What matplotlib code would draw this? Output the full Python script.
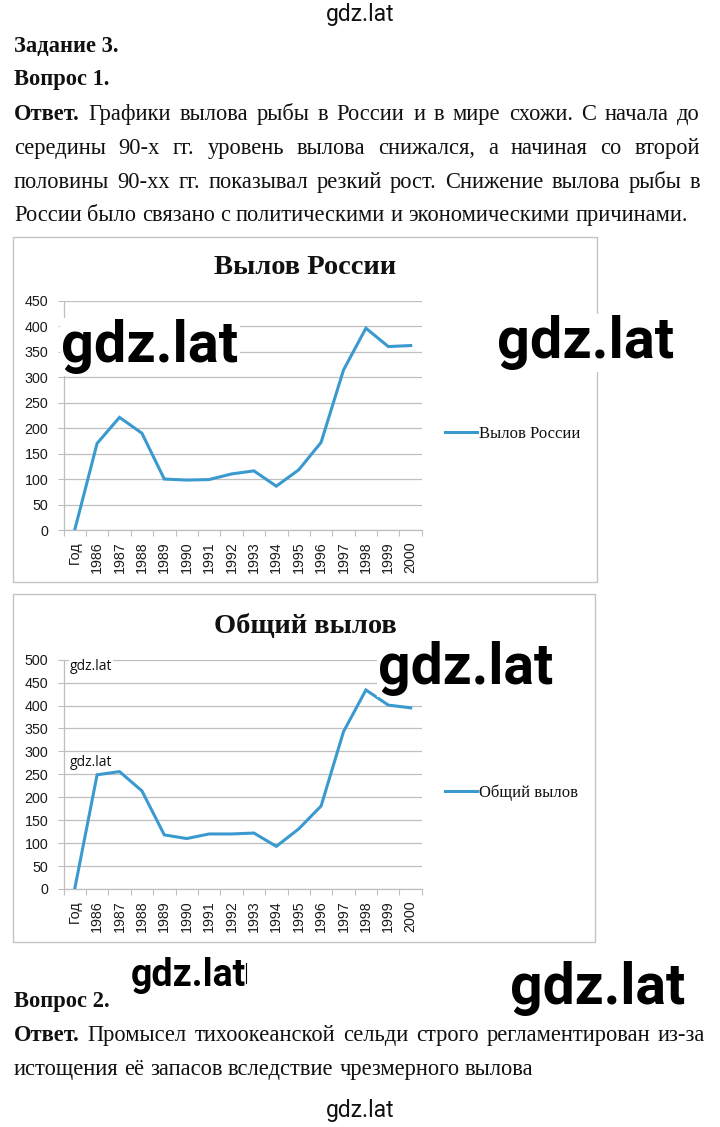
import matplotlib
matplotlib.use("Agg")
import matplotlib.pyplot as plt
from matplotlib.patches import Rectangle
from matplotlib.lines import Line2D

# ---------------- data ----------------
categories = ["Год", "1986", "1987", "1988", "1989", "1990", "1991", "1992",
              "1993", "1994", "1995", "1996", "1997", "1998", "1999", "2000"]
russia_catch = [0, 170, 221, 190, 100, 98, 99, 110, 116, 86, 118, 172, 314, 396, 360, 362]
total_catch = [0, 249, 256, 214, 118, 110, 120, 120, 122, 93, 131, 181, 343, 434, 401, 395]

russia_title = "Вылов России"
total_title = "Общий вылов"
russia_ticks = [0, 50, 100, 150, 200, 250, 300, 350, 400, 450]
total_ticks = [0, 50, 100, 150, 200, 250, 300, 350, 400, 450, 500]

para1 = [
    [("Ответ.", "bold"), ("Графики вылова рыбы в России и в мире схожи. С начала до", "normal")],
    [("середины 90-х гг. уровень вылова снижался, а начиная со второй", "normal")],
    [("половины 90-хх гг. показывал резкий рост. Снижение вылова рыбы в", "normal")],
    [("России было связано с политическими и экономическими причинами.", "normal")],
]
para2 = [
    [("Ответ.", "bold"), ("Промысел тихоокеанской сельди строго регламентирован из-за", "normal")],
    [("истощения её запасов вследствие чрезмерного вылова", "normal")],
]

# ---------------- figure ----------------
W, H = 720, 1127
fig = plt.figure(figsize=(7.2, 11.27), dpi=100)
fig.patch.set_facecolor("white")
renderer = fig.canvas.get_renderer()

SERIF = "Liberation Serif"
SANS = "Liberation Sans"
WM = "Roboto"
LINE_C = "#3A9AD0"
GRID_C = "#BFBFBF"


def fx(x):
    return x / W


def fy(y):
    return 1 - y / H


def text_width(s, size, weight, family=SERIF):
    t = fig.text(0, 0, s, fontsize=size, fontfamily=family, fontweight=weight)
    w = t.get_window_extent(renderer).width
    t.remove()
    return w


# body font size: fit natural width of last line of paragraph 1 to ~678 px
ref_line = para1[3][0][0]
BODY = 10 * 678 / text_width(ref_line, 10, "normal")


def draw_line(y, segs, x0, x1, justify):
    words = []
    for s, wt in segs:
        for w in s.split():
            words.append((w, wt))
    widths = [text_width(w, BODY, wt) for w, wt in words]
    space = text_width("a a", BODY, "normal") - text_width("aa", BODY, "normal")
    if justify and len(words) > 1:
        gap = (x1 - x0 - sum(widths)) / (len(words) - 1)
    else:
        gap = space
    x = x0
    for (w, wt), wd in zip(words, widths):
        fig.text(fx(x), fy(y), w, fontsize=BODY, fontfamily=SERIF,
                 fontweight=wt, va="baseline", ha="left", color="#111111")
        x += wd + gap


# headings
fig.text(fx(14), fy(52), "Задание 3.", fontsize=BODY, fontfamily=SERIF,
         fontweight="bold", va="baseline", color="#111111")
fig.text(fx(14), fy(85), "Вопрос 1.", fontsize=BODY, fontfamily=SERIF,
         fontweight="bold", va="baseline", color="#111111")
base1 = [120, 154, 188, 221]
for i, (y, segs) in enumerate(zip(base1, para1)):
    draw_line(y, segs, 14, 700, justify=(i < len(para1) - 1))

fig.text(fx(14), fy(1007), "Вопрос 2.", fontsize=BODY, fontfamily=SERIF,
         fontweight="bold", va="baseline", color="#111111")
base2 = [1041, 1075]
for i, (y, segs) in enumerate(zip(base2, para2)):
    draw_line(y, segs, 14, 705, justify=(i < len(para2) - 1))


# ---------------- charts ----------------
def make_chart(box, ax_rect, values, ticks, title, title_y, legend_y):
    bx0, by0, bx1, by1 = box
    fig.add_artist(Rectangle((fx(bx0), fy(by1)), (bx1 - bx0) / W, (by1 - by0) / H,
                             transform=fig.transFigure, fill=False,
                             edgecolor="#C4C4C4", lw=1.0))
    l, t, r, b = ax_rect
    ax = fig.add_axes([fx(l), fy(b), (r - l) / W, (b - t) / H])
    x = list(range(len(categories)))
    ax.plot(x, values, color=LINE_C, lw=2.2, label=title, solid_joinstyle="miter",
            zorder=3)
    ax.set_xlim(-0.5, len(categories) - 0.5)
    ax.set_ylim(ticks[0], ticks[-1])
    ax.set_yticks(ticks)
    ax.set_yticklabels([str(v) for v in ticks], fontfamily=SANS, fontsize=10.3)
    ax.yaxis.grid(True, color=GRID_C, lw=0.9)
    ax.set_axisbelow(True)
    ax.tick_params(axis="y", length=4, width=0.8, color=GRID_C, pad=7,
                   labelcolor="#1a1a1a")
    ax.set_xticks([i - 0.5 for i in range(len(categories) + 1)])
    ax.set_xticklabels([])
    ax.set_xticks(x, minor=True)
    ax.set_xticklabels(categories, minor=True, rotation=90, fontfamily=SANS,
                       fontsize=10.3, color="#1a1a1a")
    ax.tick_params(axis="x", which="major", length=4, width=0.8, color=GRID_C)
    ax.tick_params(axis="x", which="minor", length=0, pad=8)
    for s in ("top", "right"):
        ax.spines[s].set_visible(False)
    for s in ("left", "bottom"):
        ax.spines[s].set_color(GRID_C)
        ax.spines[s].set_linewidth(0.9)
    fig.text(fx(305), fy(title_y), title, fontsize=20.5, fontfamily=SERIF,
             fontweight="bold", ha="center", va="baseline", color="#111111")
    leg = ax.legend(loc="center left", bbox_to_anchor=(fx(445), fy(legend_y)),
                    bbox_transform=fig.transFigure, frameon=False,
                    prop={"family": SERIF, "size": 12}, handlelength=1.9,
                    handletextpad=0.15, borderpad=0, borderaxespad=0)
    for txt in leg.get_texts():
        txt.set_color("#111111")
    return ax


ax1 = make_chart((13, 237, 597, 582), (63.5, 300.7, 421.9, 530),
                 russia_catch, russia_ticks, russia_title, 274, 434)
ax2 = make_chart((13, 594, 595, 942), (63.5, 659.7, 421.9, 889),
                 total_catch, total_ticks, total_title, 633, 793)

# ---------------- watermarks ----------------
wm_box = dict(facecolor="white", edgecolor="none", pad=1)
fig.text(fx(360), fy(15), "gdz.lat", fontsize=16.5, fontfamily=WM, ha="center",
         va="center", color="#111111")
fig.text(fx(360), fy(1110), "gdz.lat", fontsize=16.5, fontfamily=WM, ha="center",
         va="center", color="#111111")
for (cx, cy, sz) in [(150, 347, 41.5), (586, 343, 41.5), (466, 668, 41),
                     (598, 988, 41), (188, 975, 27)]:
    fig.text(fx(cx), fy(cy), "gdz.lat", fontsize=sz, fontfamily=WM,
             fontweight="bold", ha="center", va="center", color="black",
             bbox=wm_box, zorder=10)
fig.add_artist(Line2D([fx(246), fx(246)], [fy(963), fy(983)], color="black",
                      lw=0.8, transform=fig.transFigure, zorder=11))
for (cx, cy) in [(91, 666), (91, 763)]:
    fig.text(fx(cx), fy(cy), "gdz.lat", fontsize=10, fontfamily="Open Sans",
             ha="center", va="center", color="#111111",
             bbox=dict(facecolor="white", edgecolor="none", pad=0.5), zorder=10)

fig.savefig("out.png", dpi=100, facecolor="white")
